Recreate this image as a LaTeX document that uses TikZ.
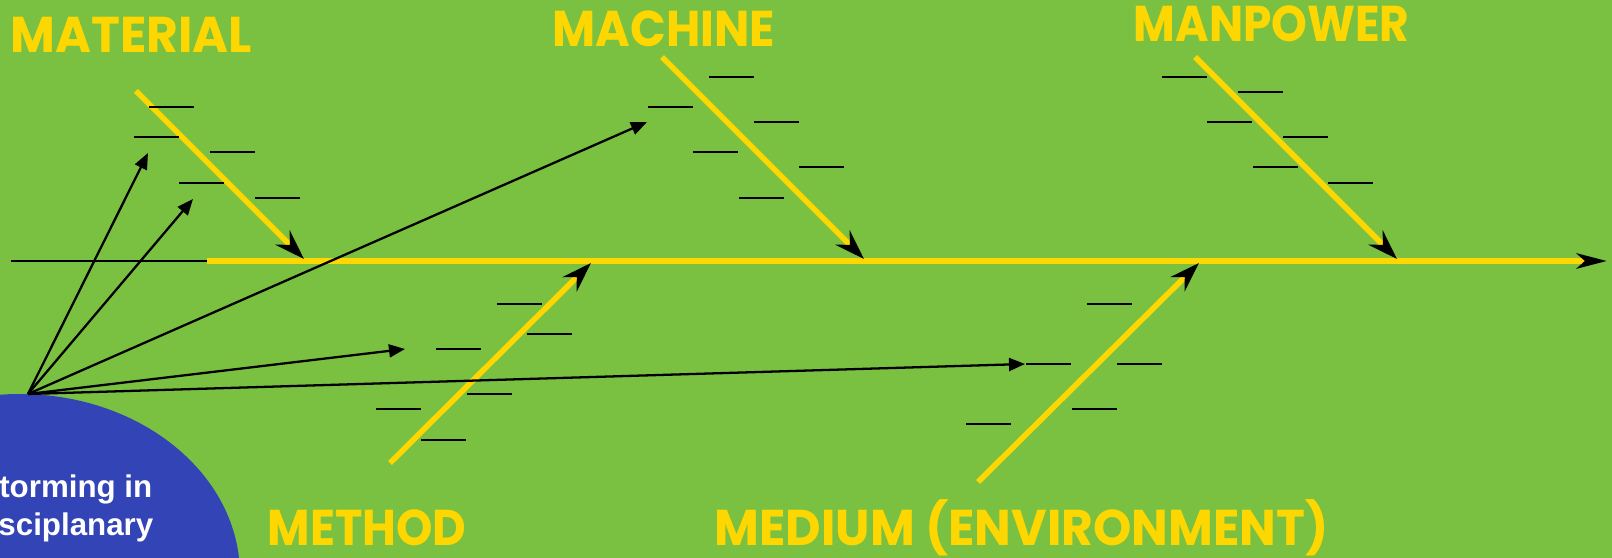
\documentclass[tikz,border=0pt]{standalone}
\usepackage{fontspec}
\setmainfont{Liberation Sans}
\newfontfamily\bonefont{Poppins}
\usetikzlibrary{arrows.meta}
\definecolor{fishgreen}{RGB}{122,193,66}
\definecolor{fishyellow}{RGB}{255,215,0}
\definecolor{fishblue}{RGB}{51,68,182}
\newcommand{\catname}[2][0.91]{\scalebox{#1}[1]{#2}}
\tikzset{
  bone/.style={draw=fishyellow, line width=1.6pt,
               -{Stealth[black, length=0.3cm, width=0.2cm, inset=0.1cm]}},
  rib/.style={draw=black, line width=0.6pt},
  arr/.style={-{Triangle[length=0.16cm, width=0.13cm]}, line width=0.65pt},
  cat/.style={text=fishyellow, inner sep=0pt, anchor=base west,
              font=\bonefont\bfseries\fontsize{14.3}{17}\selectfont},
  blurb/.style={text=white, inner sep=0pt, anchor=base east,
                font=\bfseries\fontsize{8.9}{10.5}\selectfont},
}

\begin{document}
\begin{tikzpicture}[x=0.01cm, y=-0.01cm]
  \useasboundingbox (0,0) rectangle (1612,558);
  \clip (0,0) rectangle (1612,558);
  \fill[fishgreen] (0,0) rectangle (1612,558);
  \fill[fishblue] (20,575) ellipse [x radius=220, y radius=181];

  % spine and bones
  \coordinate (spineL) at (11,261);
  \coordinate (spineM) at (207,261);
  \coordinate (head)   at (1607,261);
  \coordinate (matA) at (136,91);   \coordinate (matB) at (304,259);
  \coordinate (macA) at (662,57);   \coordinate (macB) at (864,259);
  \coordinate (manA) at (1195,57);  \coordinate (manB) at (1397,259);
  \coordinate (metA) at (390,463);  \coordinate (metB) at (591,263);
  \coordinate (medA) at (978,482);  \coordinate (medB) at (1199,263);

  \draw[rib, line width=0.7pt] (spineL) -- (spineM);
  \draw[bone, -{Stealth[black, length=0.3cm, width=0.15cm, inset=0.08cm]}] (spineM) -- (head);
  \draw[bone] (matA) -- (matB);
  \draw[bone] (macA) -- (macB);
  \draw[bone] (manA) -- (manB);
  \draw[bone] (metA) -- (metB);
  \draw[bone] (medA) -- (medB);

  % blanks on each bone
  \foreach \x/\y in {149/107, 134/137, 210/152, 179/183, 255/198,
                     709/77, 648/107, 754/122, 693/152, 799/167, 739/198,
                     1162/77, 1238/92, 1207/122, 1283/137, 1253/167, 1328/183,
                     497/304, 527/334, 436/349, 467/394, 376/409, 421/440,
                     1087/304, 1026/364, 1117/364, 1072/409, 966/424}
    \draw[rib] (\x,\y) -- ++(45,0);

  % arrows out of the brainstorming
  \coordinate (src)  at (28,394);
  \coordinate (toMatA) at (148,153);
  \coordinate (toMatB) at (193,199);
  \coordinate (toMac)  at (647,122);
  \coordinate (toMet)  at (405,349);
  \coordinate (toMed)  at (1025,364);
  \draw[arr] (src) -- (toMatA);
  \draw[arr] (src) -- (toMatB);
  \draw[arr] (src) -- (toMac);
  \draw[arr] (src) -- (toMet);
  \draw[arr] (src) -- (toMed);

  \node[cat] (material) at (10,53)   {\catname[0.97]{MATERIAL}};
  \node[cat] (machine)  at (552,47)  {\catname[0.935]{MACHINE}};
  \node[cat] (manpower) at (1133,42) {\catname[0.905]{MANPOWER}};
  \node[cat] (method)   at (267,545) {\catname[0.92]{METHOD}};
  \node[cat] (medium)   at (714,545) {\catname[0.97]{MEDIUM (ENVIRONMENT)}};

  \node[blurb] (blurbA) at (153,498) {torming in};
  \node[blurb] (blurbB) at (154,535) {sciplanary};
\end{tikzpicture}
\end{document}
